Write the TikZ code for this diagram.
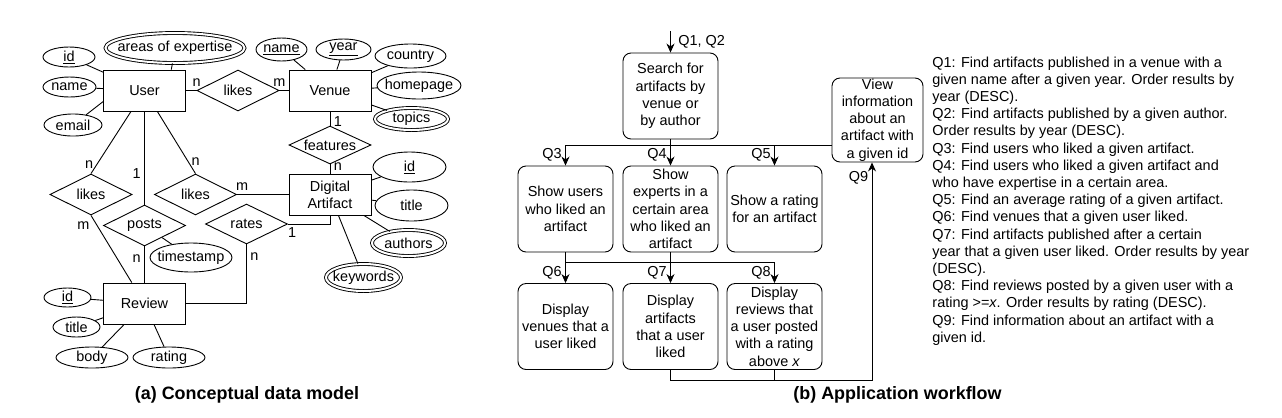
\documentclass[tikz,border=0pt]{standalone}
\usepackage{fontspec}
\setmainfont{Liberation Sans}
\usepackage{tikz}
\usetikzlibrary{shapes.geometric,arrows.meta}

\begin{document}
\begin{tikzpicture}[x=1bp, y=-1bp, line width=0.9bp,
  font=\fontsize{14.5}{17.25}\selectfont,
  >={Stealth[length=9bp,width=8bp]},
  entity/.style={draw, minimum width=82bp, minimum height=41bp, inner sep=0pt, align=center},
  relation/.style={draw, diamond, aspect=2, minimum width=82bp, minimum height=41bp, inner sep=0pt},
  attr/.style={draw, ellipse, inner xsep=-5bp, inner ysep=0pt},
  multi/.style={attr, double, double distance=2bp},
  wfbox/.style={draw, rounded corners=8bp, minimum width=95bp, minimum height=86bp, inner sep=0pt, align=center},
  caption/.style={font=\fontsize{18}{20}\selectfont\bfseries}]
  \useasboundingbox (0,0) rectangle (1282,417);

  \node[entity] (user) at (144.5,90.5) {User};
  \node[entity] (venue) at (330,90.5) {Venue};
  \node[entity] (da) at (330,194.5) {Digital\\Artifact};
  \node[entity] (review) at (144.5,303.5) {Review};
  \node[relation] (lkuv) at (238,90.5) {likes};
  \node[relation, minimum height=38bp] (feat) at (330,145) {features};
  \node[relation] (lkur) at (91,194.5) {likes};
  \node[relation] (lkud) at (195.5,194.5) {likes};
  \node[relation] (posts) at (144.5,225.5) {posts};
  \node[relation, minimum height=40bp] (rates) at (246.5,224) {rates};

  \node[attr, minimum width=52bp, minimum height=20bp] (uid) at (69,57) {\underline{id}};
  \node[attr, minimum width=53bp, minimum height=20bp] (uname) at (69.5,87) {name};
  \node[attr, minimum width=58bp, minimum height=22bp] (uemail) at (73,125) {email};
  \node[multi, inner xsep=-9bp, minimum width=139bp, minimum height=30bp] (areas) at (175,48) {areas of expertise};
  \node[attr, minimum width=51bp, minimum height=23bp] (vname) at (281.5,49.5) {\underline{name}};
  \node[attr, minimum width=55bp, minimum height=21bp] (vyear) at (343.5,49.5) {\underline{year}};
  \node[attr, minimum width=71bp, minimum height=24bp] (country) at (410.5,56) {country};
  \node[attr, minimum width=84bp, minimum height=27bp] (homepage) at (419,85.5) {homepage};
  \node[multi, minimum width=73bp, minimum height=22bp] (topics) at (411.5,119) {topics};
  \node[attr, minimum width=73bp, minimum height=30bp] (daid) at (409.5,167) {\underline{id}};
  \node[attr, minimum width=73bp, minimum height=31bp] (datitle) at (411.5,205.5) {title};
  \node[multi, minimum width=73bp, minimum height=26bp] (authors) at (408.5,243) {authors};
  \node[multi, minimum width=75bp, minimum height=27bp] (keywords) at (363.5,277.5) {keywords};
  \node[attr, minimum width=82bp, minimum height=29bp] (tstamp) at (191,257.5) {timestamp};
  \node[attr, minimum width=47bp, minimum height=19bp] (rid) at (67.5,297.5) {\underline{id}};
  \node[attr, minimum width=47bp, minimum height=20bp] (rtitle) at (76.5,327) {title};
  \node[attr, minimum width=72bp, minimum height=21bp] (body) at (92,357.5) {body};
  \node[attr, minimum width=72bp, minimum height=21bp] (rating) at (169,357.5) {rating};

  \draw (uid) -- (user);
  \draw (uname) -- (user);
  \draw (uemail) -- (user.195);
  \draw (areas) -- (user.38);
  \draw (user) -- node[pos=1, above] {n} (lkuv);
  \draw (lkuv) -- node[pos=0, above] {m} (venue);
  \draw (vname) -- (venue);
  \draw (vyear) -- (venue);
  \draw (country) -- (venue);
  \draw (homepage) -- (venue);
  \draw (topics) -- (venue);
  \draw (venue) -- node[pos=0.75, right] {1} (feat);
  \draw (feat) -- node[pos=0.2, right] {n} (da);
  \draw (daid) -- (da);
  \draw (datitle) -- (da);
  \draw (authors) -- (da);
  \draw (keywords) -- (da);
  \draw (user) -- node[pos=0.85, left] {n} (lkur.north);
  \draw (lkur.south) -- node[pos=0.15, left=4bp] {m} (review);
  \draw (user) -- node[pos=0.67, left] {1} (posts);
  \draw (user) -- node[pos=0.8, right] {n} (lkud.north);
  \draw (lkud) -- node[pos=0.1, above] {m} (da);
  \draw (posts) -- node[pos=0.35, left] {n} (review);
  \draw (posts) -- (tstamp);
  \draw (rates) -| node[pos=0.05, below] {1} (da);
  \draw (rates) |- node[pos=0.1, right] {n} (review);
  \draw (rid) -- (review);
  \draw (rtitle) -- (review);
  \draw (body) -- (review);
  \draw (rating) -- (review);

  \coordinate (qin) at (670.5,31);
  \coordinate (bus1) at (670.5,145);
  \coordinate (bus2) at (670.5,262);
  \coordinate (bus3) at (872,380);
  \node[wfbox] (search) at (670.5,96) {Search for\\artifacts by\\venue or\\by author};
  \node[wfbox] (q3box) at (565.5,209) {Show users\\who liked an\\artifact};
  \node[wfbox] (q4box) at (670.5,209) {Show\\experts in a\\certain area\\who liked an\\artifact};
  \node[wfbox] (q5box) at (774.5,209) {Show a rating\\for an artifact};
  \node[wfbox, minimum width=91bp, minimum height=84bp] (view) at (877.5,120) {View\\information\\about an\\artifact with\\a given id};
  \node[wfbox] (q6box) at (565.5,326.5) {Display\\venues that a\\user liked};
  \node[wfbox] (q7box) at (670.5,326.5) {Display\\artifacts\\that a user\\liked};
  \node[wfbox] (q8box) at (774.5,326.5) {Display\\reviews that\\a user posted\\with a rating\\above \textit{x}};

  \draw[->] (qin) -- node[right=4bp] {Q1, Q2} (search);
  \draw[->] (bus1 -| view.west) -| node[pos=0.75, left] {Q3} (q3box);
  \draw[->] (search) -- node[pos=0.6, left] {Q4} (q4box);
  \draw[->] (bus1 -| q5box) -- node[left] {Q5} (q5box);
  \draw[->] (q3box) -- node[pos=0.68, left] {Q6} (q6box);
  \draw[->] (q4box) -- node[pos=0.68, left] {Q7} (q7box);
  \draw[->] (bus2 -| q3box) -| node[pos=0.75, left] {Q8} (q8box);
  \draw[->] (q7box) |- (bus3) -- node[pos=0.93, left] {Q9} (bus3 |- view.south);
  \draw (q8box) -- (q8box |- bus3);

  \node[anchor=north west, align=left, inner sep=0pt] (queries) at (932,56.3) {Q1: Find artifacts published in a venue with a\\
    given name after a given year. Order results by\\
    year (DESC).\\
    Q2: Find artifacts published by a given author.\\
    Order results by year (DESC).\\
    Q3: Find users who liked a given artifact.\\
    Q4: Find users who liked a given artifact and\\
    who have expertise in a certain area.\\
    Q5: Find an average rating of a given artifact.\\
    Q6: Find venues that a given user liked.\\
    Q7: Find artifacts published after a certain\\
    year that a given user liked. Order results by year\\
    (DESC).\\
    Q8: Find reviews posted by a given user with a\\
    rating >=\textit{x}. Order results by rating (DESC).\\
    Q9: Find information about an artifact with a\\
    given id.};

  \node[caption] (capa) at (247,395) {(a) Conceptual data model};
  \node[caption] (capb) at (897.5,395) {(b) Application workflow};
\end{tikzpicture}
\end{document}
